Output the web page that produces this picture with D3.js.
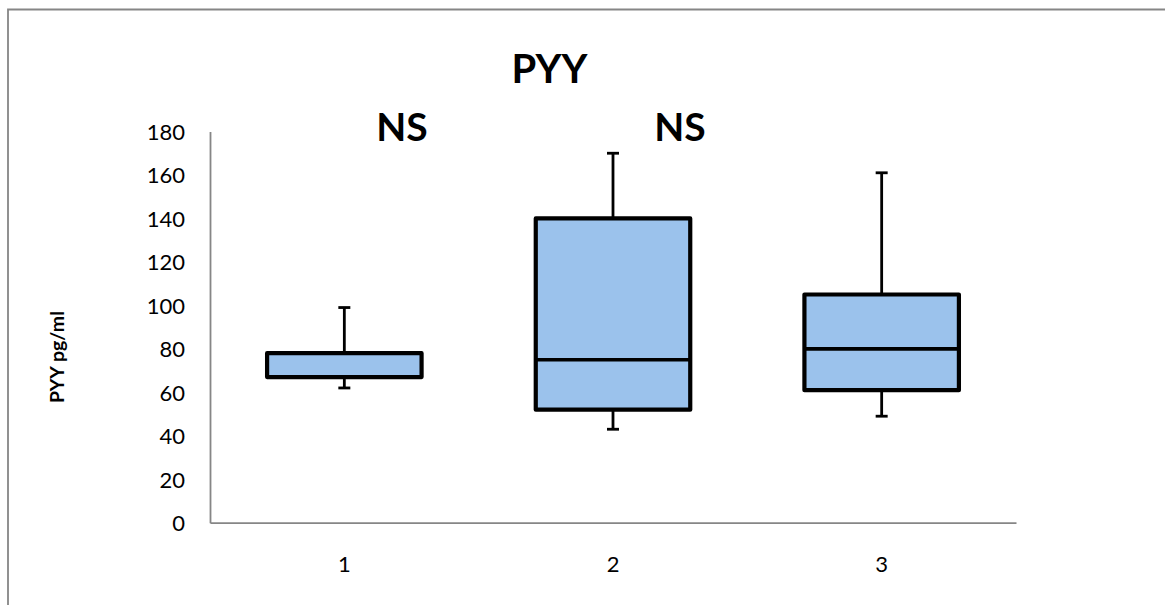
<!DOCTYPE html>
<html><head><meta charset="utf-8">
<script src="https://cdn.jsdelivr.net/npm/d3@7"></script>
<style>html,body{margin:0;padding:0;background:#fff;}svg{display:block;font-family:Lato,"Open Sans",sans-serif;}</style>
</head><body>
<svg id="c" width="1165" height="605"></svg>
<script>
const categories = ["1", "2", "3"];
const whiskerMin = [62, 43, 49];
const q1 = [67, 52, 61];
const median = [67, 75, 80];
const q3 = [78, 140, 105];
const whiskerMax = [99, 170, 161];
const yTicks = [0, 20, 40, 60, 80, 100, 120, 140, 160, 180];
const chartTitle = "PYY";
const yTitle = "PYY pg/ml";
const annotations = ["NS", "NS"];

const svg = d3.select("#c");
const fill = "#9bc2ec";
const axisCol = "#868686";

// chart border (left and top visible)
svg.append("path").attr("d", "M8,605 L8,9.5 L1165,9.5").attr("fill", "none").attr("stroke", axisCol).attr("stroke-width", 1.8);

const x = d3.scaleBand().domain(categories).range([210, 1016]).paddingInner(0).paddingOuter(0);
const y = d3.scaleLinear().domain([0, 180]).range([522.7, 131.5]);
const bw = x.bandwidth() * 0.575;

// axes
const yAxis = d3.axisLeft(y).tickValues(yTicks).tickSize(0).tickPadding(25);
const gy = svg.append("g").attr("transform", "translate(210,0)").call(yAxis);
gy.select(".domain").attr("stroke", axisCol).attr("stroke-width", 1.8);
gy.selectAll("text").attr("font-size", 22).attr("fill", "#000").attr("font-family", "Lato").attr("dy", "0.36em");

const xAxis = d3.axisBottom(x).tickSize(0).tickPadding(34);
const gx = svg.append("g").attr("transform", "translate(0,522.7)").call(xAxis);
gx.select(".domain").attr("stroke", axisCol).attr("stroke-width", 1.8);
gx.selectAll("text").attr("font-size", 22).attr("fill", "#000").attr("font-family", "Lato");

// boxes
const data = categories.map((c, i) => ({c, min: whiskerMin[i], q1: q1[i], med: median[i], q3: q3[i], max: whiskerMax[i]}));
const g = svg.append("g");
const cx = d => x(d.c) + x.bandwidth() / 2;
// whiskers
g.selectAll(".wh").data(data).join("line").attr("x1", cx).attr("x2", cx)
  .attr("y1", d => y(d.max)).attr("y2", d => y(d.min)).attr("stroke", "#000").attr("stroke-width", 2.8);
g.selectAll(".capT").data(data).join("line").attr("x1", d => cx(d) - 6).attr("x2", d => cx(d) + 6)
  .attr("y1", d => y(d.max)).attr("y2", d => y(d.max)).attr("stroke", "#000").attr("stroke-width", 2.8);
g.selectAll(".capB").data(data).join("line").attr("x1", d => cx(d) - 6).attr("x2", d => cx(d) + 6)
  .attr("y1", d => y(d.min)).attr("y2", d => y(d.min)).attr("stroke", "#000").attr("stroke-width", 2.8);
// box
g.selectAll(".box").data(data).join("rect")
  .attr("x", d => cx(d) - bw / 2).attr("width", bw)
  .attr("y", d => y(d.q3)).attr("height", d => y(d.q1) - y(d.q3))
  .attr("fill", fill).attr("stroke", "#000").attr("stroke-width", 4.2).attr("stroke-linejoin", "round");
g.selectAll(".med").data(data).join("line")
  .attr("x1", d => cx(d) - bw / 2).attr("x2", d => cx(d) + bw / 2)
  .attr("y1", d => y(d.med)).attr("y2", d => y(d.med)).attr("stroke", "#000").attr("stroke-width", 3.6);

// title
svg.append("text").attr("x", 549.5).attr("y", 83).attr("text-anchor", "middle")
  .attr("font-size", 40).attr("font-weight", "bold").attr("font-family", "Lato").text(chartTitle);
// NS annotations
const annX = [402, 680];
svg.selectAll(".ann").data(annotations).join("text").attr("x", (d, i) => annX[i]).attr("y", 141)
  .attr("text-anchor", "middle").attr("font-size", 39).attr("font-weight", "bold").attr("font-family", "Lato").text(d => d);
// y title
svg.append("text").attr("transform", "translate(64,357) rotate(-90)").attr("text-anchor", "middle")
  .attr("font-size", 19.5).attr("font-weight", "bold").attr("font-family", "Lato").text(yTitle);
</script>
</body></html>
